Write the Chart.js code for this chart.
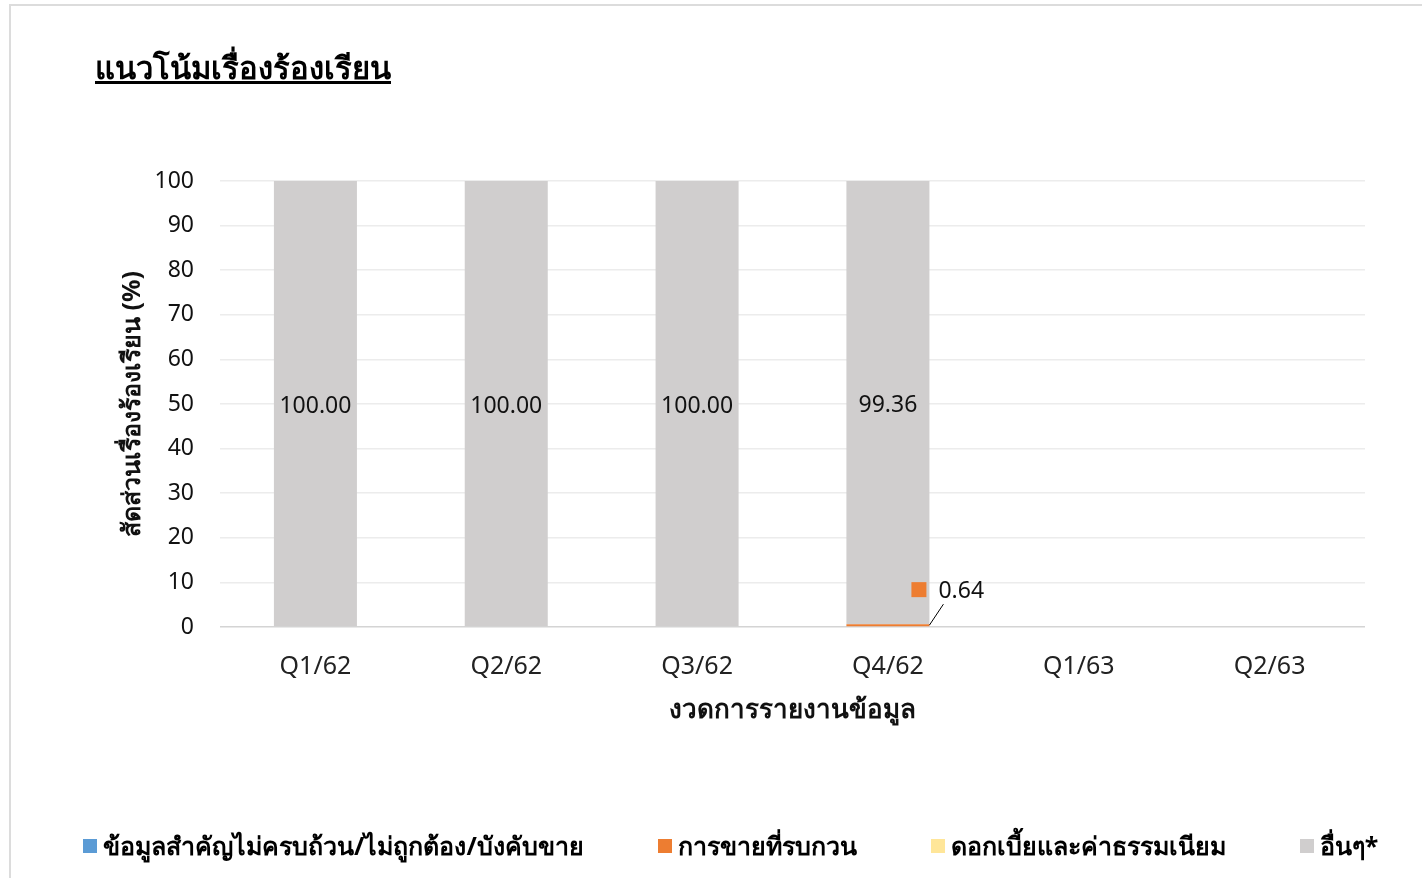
<!DOCTYPE html>
<html>
<head>
<meta charset="utf-8">
<script src="https://cdn.jsdelivr.net/npm/chart.js@4.4.1/dist/chart.umd.min.js"></script>
<style>
  html, body { margin: 0; padding: 0; background: #fff; overflow: hidden; }
  #frame { position: absolute; left: 9px; top: 4px; width: 1430px; height: 890px; border: 2px solid #dcdcdc; }
  #title { position: absolute; left: 95px; top: 43px; font-family: "Noto Sans", "DejaVu Sans", sans-serif; font-size: 31px; font-weight: bold; text-decoration: underline; color: #000; }
  canvas { position: absolute; left: 0; top: 0; }
  #legend { position: absolute; left: 83px; top: 826px; display: flex; gap: 74px; font-family: "Noto Sans", "DejaVu Sans", sans-serif; font-size: 25px; font-weight: bold; color: #000; white-space: nowrap; }
  #legend .item { display: flex; align-items: center; }
  #legend .box { width: 14px; height: 14px; margin-right: 6px; }
</style>
</head>
<body>
<div id="frame"></div>
<canvas id="myChart" width="1422" height="878"></canvas>
<div id="title">แนวโน้มเรื่องร้องเรียน</div>
<div id="legend"></div>
<script>
const quarters = ["Q1/62", "Q2/62", "Q3/62", "Q4/62", "Q1/63", "Q2/63"];
const infoIncomplete = [0, 0, 0, 0, null, null];
const unwantedSales = [0, 0, 0, 0.64, null, null];
const interestFees = [0, 0, 0, 0, null, null];
const others = [100, 100, 100, 99.36, null, null];
const yTicks = [0, 10, 20, 30, 40, 50, 60, 70, 80, 90, 100];

const thaiFont = '"Noto Sans", "DejaVu Sans", sans-serif';

// value labels, like the Excel data labels
const barLabels = {
  id: 'barLabels',
  afterDatasetsDraw(chart) {
    const ctx = chart.ctx;
    ctx.save();
    chart.data.datasets.forEach((ds, i) => {
      const meta = chart.getDatasetMeta(i);
      meta.data.forEach((bar, j) => {
        const v = ds.data[j];
        if (!v) return;
        const p = bar.getProps(['x', 'y', 'base', 'width'], true);
        ctx.font = '23px ' + thaiFont;
        ctx.fillStyle = '#111';
        ctx.textBaseline = 'middle';
        if (i === 3) {
          ctx.textAlign = 'center';
          ctx.fillText(v.toFixed(2), p.x, (p.y + p.base) / 2 + 3);
        } else {
          const r = p.x + p.width / 2;
          ctx.strokeStyle = '#000';
          ctx.lineWidth = 1;
          ctx.beginPath();
          ctx.moveTo(r, p.y + 1);
          ctx.lineTo(r + 14, p.y - 20);
          ctx.stroke();
          ctx.fillStyle = ds.backgroundColor;
          ctx.fillRect(r - 18, p.y - 42, 15, 15);
          ctx.fillStyle = '#111';
          ctx.textAlign = 'left';
          ctx.fillText(v.toFixed(2), r + 9, p.y - 33);
        }
      });
    });
    ctx.restore();
  }
};

const ctx = document.getElementById('myChart');
const myChart = new Chart(ctx, {
  type: 'bar',
  data: {
    labels: quarters,
    datasets: [
      { label: 'ข้อมูลสำคัญไม่ครบถ้วน/ไม่ถูกต้อง/บังคับขาย', data: infoIncomplete, backgroundColor: '#5B9BD5' },
      { label: 'การขายที่รบกวน', data: unwantedSales, backgroundColor: '#ED7D31' },
      { label: 'ดอกเบี้ยและค่าธรรมเนียม', data: interestFees, backgroundColor: '#FFE699' },
      { label: 'อื่นๆ*', data: others, backgroundColor: '#D0CECE' }
    ]
  },
  options: {
    responsive: false,
    animation: false,
    devicePixelRatio: 1,
    barPercentage: 0.435,
    categoryPercentage: 1,
    layout: { padding: { left: 0, right: 57, top: 181, bottom: 152 } },
    plugins: {
      tooltip: { enabled: false },
      legend: { display: false }
    },
    scales: {
      x: {
        stacked: true,
        grid: { display: false },
        border: { display: false },
        ticks: { color: '#222', padding: 17, font: { family: thaiFont, size: 25 } },
        title: {
          display: true,
          text: 'งวดการรายงานข้อมูล',
          color: '#111',
          padding: { top: 4, bottom: 0 },
          font: { family: thaiFont, size: 26, weight: 'bold' }
        },
        afterFit(scale) { scale.height = 99; }
      },
      y: {
        stacked: true,
        min: 0,
        max: 100,
        afterBuildTicks(scale) { scale.ticks = yTicks.map(v => ({ value: v })); },
        grid: {
          drawTicks: false,
          lineWidth: 1.5,
          color: (c) => c.tick && c.tick.value === 0 ? '#d4d4d4' : '#ececec'
        },
        border: { display: false },
        ticks: { color: '#111', padding: 26, font: { family: thaiFont, size: 23 } },
        title: {
          display: true,
          text: 'สัดส่วนเรื่องร้องเรียน (%)',
          color: '#111',
          padding: { top: 118, bottom: 0 },
          font: { family: thaiFont, size: 25, weight: 'bold' }
        },
        afterFit(scale) { scale.width = 220; }
      }
    }
  },
  plugins: [barLabels]
});

const legendEl = document.getElementById('legend');
myChart.data.datasets.forEach(ds => {
  const item = document.createElement('div');
  item.className = 'item';
  const box = document.createElement('span');
  box.className = 'box';
  box.style.background = ds.backgroundColor;
  const txt = document.createElement('span');
  txt.textContent = ds.label;
  item.appendChild(box);
  item.appendChild(txt);
  legendEl.appendChild(item);
});
</script>
</body>
</html>
